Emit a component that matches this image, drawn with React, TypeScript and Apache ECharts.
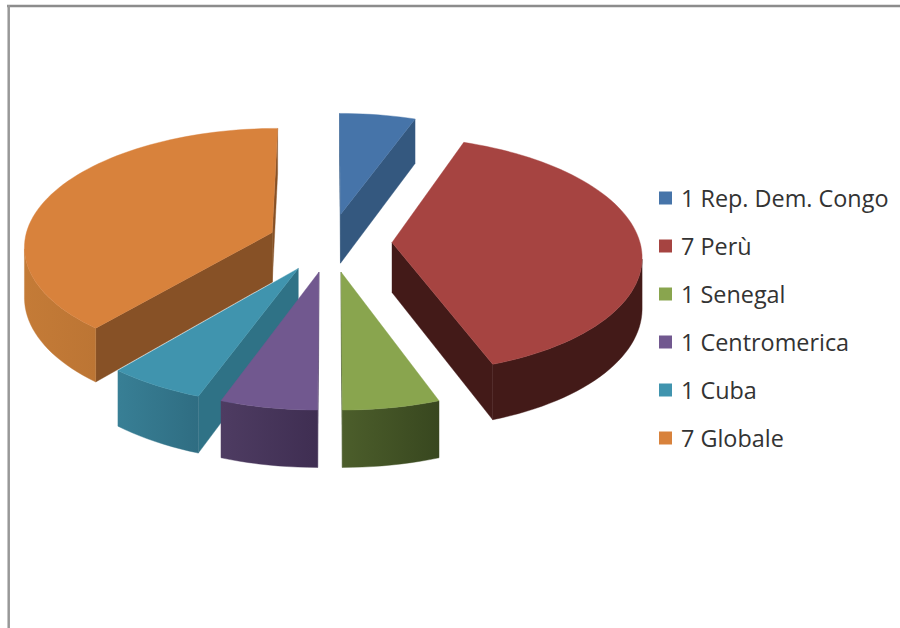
import React, { useEffect, useRef } from "react";
import * as echarts from "echarts";

const categories = ["1 Rep. Dem. Congo", "7 Perù", "1 Senegal", "1 Centromerica", "1 Cuba", "7 Globale"];
const values = [1, 7, 1, 1, 1, 7];
const topColors = ["#4674A9", "#A64441", "#89A54E", "#71588F", "#4094AE", "#D8823C"];
const radialColors = ["#34587F", "#431A18", "#3C4C22", "#4A3A60", "#2F7286", "#875126"];
const outerStart = ["#34587F", "#431A18", "#38471F", "#3F2E52", "#2F6D82", "#BC7534"];
const outerEnd = ["#34587F", "#431A18", "#4C5E2B", "#4E3C62", "#387F95", "#C47B37"];

// projection of the exploded pie
const CX = 330, CY = 242.5, RX = 248, RY = 117, PERSP = 0.104, DEPTH = 50, EXPLODE = 0.25;
const total = values.reduce((a, b) => a + b, 0);

type P = [number, number];
const project = (u: number, v: number, down = 0): P => {
  const s = 1 / (1 - PERSP * v);
  return [CX + RX * u * s, CY + RY * v * s + DEPTH * down * s];
};

function sliceAngles(i: number, value: number) {
  const before = values.slice(0, i).reduce((a, b) => a + b, 0);
  const a0 = (before / total) * Math.PI * 2;
  const a1 = a0 + (value / total) * Math.PI * 2;
  return [a0, a1];
}

function renderSlice(i: number) {
  return (_: any, api: any) => {
    const [a0, a1] = sliceAngles(i, api.value(0));
    const mid = (a0 + a1) / 2;
    const ax = EXPLODE * Math.sin(mid), ay = -EXPLODE * Math.cos(mid);
    const steps = Math.max(4, Math.round((a1 - a0) / (Math.PI / 90)));
    const arc: P[] = [];
    for (let k = 0; k <= steps; k++) {
      const t = a0 + ((a1 - a0) * k) / steps;
      arc.push([ax + Math.sin(t), ay - Math.cos(t)]);
    }
    const fill = (pts: P[], color: any) => ({
      type: "polygon",
      shape: { points: pts },
      style: { fill: color, stroke: color, lineWidth: 0.4 },
      silent: true,
    });
    const children: any[] = [];
    const quad = (a: P, b: P) => [project(a[0], a[1]), project(b[0], b[1]), project(b[0], b[1], 1), project(a[0], a[1], 1)];
    const faces = (a: P, b: P) => project(a[0], a[1])[0] > project(b[0], b[1])[0] + 0.01;
    const apex: P = [ax, ay];
    if (faces(apex, arc[0])) children.push(fill(quad(apex, arc[0]), radialColors[i]));
    if (faces(arc[steps], apex)) children.push(fill(quad(arc[steps], apex), radialColors[i]));
    const front = arc.filter((p, k) =>
      (k < steps && faces(p, arc[k + 1])) || (k > 0 && faces(arc[k - 1], p))
    );
    if (front.length > 1) {
      const up = front.map((p) => project(p[0], p[1]));
      const low = front.map((p) => project(p[0], p[1], 1)).reverse();
      children.push(
        fill(
          up.concat(low),
          new echarts.graphic.LinearGradient(0, 0, 1, 0, [
            { offset: 0, color: outerEnd[i] },
            { offset: 1, color: outerStart[i] },
          ])
        )
      );
    }
    children.push(fill([apex, ...arc].map((p) => project(p[0], p[1])), topColors[i]));
    return { type: "group", children };
  };
}

const depthKey = (i: number) => {
  const [a0, a1] = sliceAngles(i, values[i]);
  return -Math.cos((a0 + a1) / 2);
};
const drawRank = values.map((_, i) => i).sort((a, b) => depthKey(a) - depthKey(b));

export default function App() {
  const ref = useRef<HTMLDivElement>(null);
  useEffect(() => {
    document.body.style.margin = "0";
    const chart = echarts.init(ref.current!, undefined, { renderer: "svg" });
    chart.setOption({
      animation: false,
      backgroundColor: "#ffffff",
      color: topColors,
      legend: {
        orient: "vertical",
        left: 659,
        top: 186,
        padding: 0,
        itemWidth: 13,
        itemHeight: 13,
        itemGap: 24,
        icon: "rect",
        selectedMode: false,
        data: categories,
        textStyle: {
          fontFamily: "Open Sans",
          fontSize: 23.4,
          lineHeight: 24,
          color: "#333333",
          padding: [0, 0, 0, 4],
        },
      },
      graphic: [
        { type: "line", shape: { x1: 7, y1: 6, x2: 900, y2: 6 }, style: { stroke: "#8c8c8c", lineWidth: 2.5 }, silent: true },
        { type: "line", shape: { x1: 8.7, y1: 5, x2: 8.7, y2: 628 }, style: { stroke: "#989898", lineWidth: 2.5 }, silent: true },
      ],
      series: categories.map((name, i) => ({
        type: "custom",
        name,
        coordinateSystem: "none",
        z: 2 + drawRank.indexOf(i),
        itemStyle: { color: topColors[i] },
        data: [[values[i]]],
        renderItem: renderSlice(i),
      })),
    });
    return () => chart.dispose();
  }, []);
  return <div ref={ref} style={{ position: "absolute", left: 0, top: 0, width: 900, height: 628 }} />;
}
